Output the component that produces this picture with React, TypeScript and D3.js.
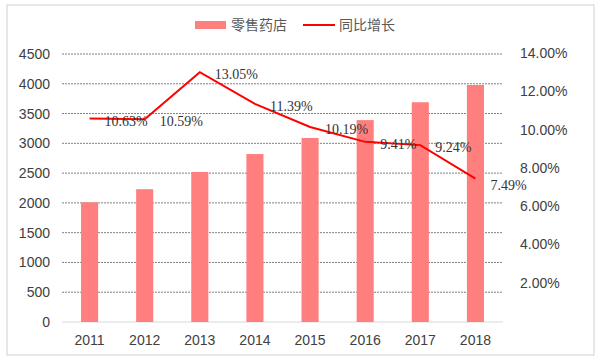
import * as d3 from "d3";

const YEARS = ["2011", "2012", "2013", "2014", "2015", "2016", "2017", "2018"];
const STORES = [2010, 2230, 2520, 2820, 3090, 3390, 3690, 3980];
const GROWTH = [10.63, 10.59, 13.05, 11.39, 10.19, 9.41, 9.24, 7.49];
const LEFT_TICKS = [0, 500, 1000, 1500, 2000, 2500, 3000, 3500, 4000, 4500];
const RIGHT_TICKS = [2, 4, 6, 8, 10, 12, 14];

const W = 600;
const H = 362;
const MARGIN = { top: 54, right: 97, bottom: 40, left: 62 };

const AXIS_FONT = "'Liberation Sans', Arial, sans-serif";

export default function App() {
  const boundsW = W - MARGIN.left - MARGIN.right;
  const boundsH = H - MARGIN.top - MARGIN.bottom;

  const x = d3
    .scaleBand<string>()
    .domain(YEARS)
    .range([0, boundsW])
    .paddingInner(0.69)
    .paddingOuter(0.345);
  const yLeft = d3.scaleLinear().domain([0, 4500]).range([boundsH, 0]);
  const yRight = d3.scaleLinear().domain([0, 14]).range([boundsH, 0]);

  const cx = (d: string) => (x(d) ?? 0) + x.bandwidth() / 2;

  const linePath = d3
    .line<number>()
    .x((_, i) => cx(YEARS[i]))
    .y((d) => yRight(d))(GROWTH);

  return (
    <svg
      width={W}
      height={H}
      style={{ position: "absolute", left: 0, top: 0, background: "#fff" }}
    >
      <rect x={7} y={5} width={587} height={350} fill="#fff" stroke="#cfcfcf" strokeWidth={1} />

      {/* legend */}
      <g fontFamily="'Noto Sans CJK SC', sans-serif" fontSize={14} fill="#595959">
        <rect x={195} y={21} width={31} height={8} fill="#ff7f7f" />
        <text x={231} y={30}>零售药店</text>
        <line x1={303} x2={335} y1={25} y2={25} stroke="#ff0000" strokeWidth={2} />
        <text x={339} y={30}>同比增长</text>
      </g>

      <g transform={`translate(${MARGIN.left},${MARGIN.top})`}>
        {/* gridlines */}
        {LEFT_TICKS.filter((t) => t > 0).map((t) => (
          <line
            key={t}
            x1={0}
            x2={boundsW}
            y1={yLeft(t)}
            y2={yLeft(t)}
            stroke="#808080"
            strokeWidth={1}
            strokeDasharray="2,1"
          />
        ))}
        <line x1={0} x2={boundsW} y1={boundsH} y2={boundsH} stroke="#d9d9d9" strokeWidth={1} />

        {/* bars */}
        {STORES.map((v, i) => (
          <rect
            key={YEARS[i]}
            x={x(YEARS[i])}
            width={x.bandwidth()}
            y={yLeft(v)}
            height={boundsH - yLeft(v)}
            fill="#ff7f7f"
          />
        ))}

        {/* growth line */}
        <path d={linePath ?? ""} fill="none" stroke="#ff0000" strokeWidth={2} />
        {GROWTH.map((g, i) => (
          <text
            key={YEARS[i]}
            x={cx(YEARS[i]) + 15}
            y={yRight(g) + (i === GROWTH.length - 1 ? 11 : 7)}
            fontFamily="'Liberation Serif', 'DejaVu Serif', serif"
            fontSize={14}
            fill="#333"
          >
            {g.toFixed(2)}%
          </text>
        ))}

        {/* left axis */}
        {LEFT_TICKS.map((t) => (
          <text
            key={t}
            x={-12}
            y={yLeft(t) + 5}
            textAnchor="end"
            fontFamily={AXIS_FONT}
            fontSize={14}
            fill="#404040"
          >
            {t}
          </text>
        ))}

        {/* right axis */}
        {RIGHT_TICKS.map((t) => (
          <text
            key={t}
            x={boundsW + 17}
            y={yRight(t) + 4}
            fontFamily={AXIS_FONT}
            fontSize={14}
            fill="#404040"
          >
            {t.toFixed(2)}%
          </text>
        ))}

        {/* x axis */}
        {YEARS.map((y) => (
          <text
            key={y}
            x={cx(y)}
            y={boundsH + 23}
            textAnchor="middle"
            fontFamily={AXIS_FONT}
            fontSize={14}
            fill="#404040"
          >
            {y}
          </text>
        ))}
      </g>
    </svg>
  );
}
